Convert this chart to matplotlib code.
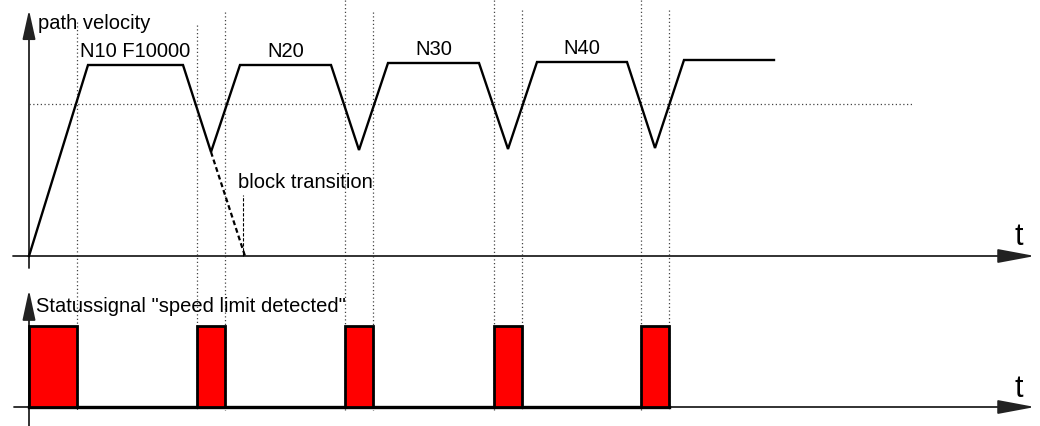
import matplotlib
matplotlib.use('Agg')
import matplotlib.pyplot as plt

# ---------------- data ----------------
# path velocity profile (time units, velocity units)
t_vel = [0, 59, 154, 182, 211, 302, 330, 359, 450, 479, 508, 598, 626, 655, 745]
v_vel = [0, 191, 191, 104, 191, 191, 106, 193, 193, 107, 194, 194, 108, 196, 196]
block_names = ["N10 F10000", "N20", "N30", "N40"]
limit_level = 152          # dotted velocity limit
limit_end = 883
ext_t = [182, 216]         # dashed continuation of braking ramp
ext_v = [104, 0]
transition_t = 214         # block transition marker
# status signal "speed limit detected"
pulse_start = [0, 168, 316, 465, 612]
pulse_end = [48, 196, 344, 493, 640]
marker_tops = [22, 25, 12, 0, 12, 0, 10, 0, 10]  # top rows of the dotted markers

plt.rcParams['font.family'] = ['Liberation Sans', 'DejaVu Sans']

W, H = 1040, 426
fig = plt.figure(figsize=(W / 100, H / 100), dpi=100)
fig.patch.set_facecolor('white')

# top axes: rows 0..280, v=0 at row 256
ax_v = fig.add_axes([0, (H - 280) / H, 1, 280 / H])
ax_v.set_xlim(-29, W - 29)
ax_v.set_ylim(-24, 256)
ax_v.axis('off')

# bottom axes: rows 280..426, s=0 at row 407, s=1 at row 326
ax_s = fig.add_axes([0, 0, 1, 146 / H])
ax_s.set_xlim(-29, W - 29)
ax_s.set_ylim(-19 / 81, 127 / 81)
ax_s.axis('off')

axis_col = '#222222'
FS = 14.5

# vertical dotted markers (spanning both panels)
marker_t = []
for s, e in zip(pulse_start, pulse_end):
    if s > 0:
        marker_t.append(s)
    marker_t.append(e)
for mt, top in zip(marker_t, marker_tops):
    ax_v.plot([mt, mt], [256 - top, 256 - 410], color='#444444', lw=0.9,
              linestyle=(0, (1, 2)), clip_on=False, zorder=1)

# horizontal dotted limit line
ax_v.plot([0, limit_end], [limit_level, limit_level], color='#444444', lw=0.9,
          linestyle=(0, (1, 2)), zorder=1)

# axes arrows (top)
ax_v.annotate('', xy=(1006, 0), xytext=(-16, 0),
              arrowprops=dict(arrowstyle='-|>,head_length=2.3,head_width=0.43',
                              mutation_scale=10, color=axis_col, lw=1.3,
                              shrinkA=0, shrinkB=0), zorder=2)
ax_v.annotate('', xy=(0, 246), xytext=(0, -12),
              arrowprops=dict(arrowstyle='-|>,head_length=1.8,head_width=0.4',
                              mutation_scale=10, color=axis_col, lw=1.3,
                              shrinkA=0, shrinkB=0), zorder=2)

# velocity curve
ax_v.plot(t_vel, v_vel, color='black', lw=1.7, solid_joinstyle='miter', zorder=3)
ax_v.plot(ext_t, ext_v, color='black', lw=1.6, linestyle=(0, (2.2, 1.4)), zorder=3)
ax_v.plot([transition_t, transition_t], [0, 61], color='black', lw=0.8,
          linestyle=(0, (3, 1.5)), zorder=3)

# block labels over plateaus
for i, name in enumerate(block_names):
    a, b = 1 + 3 * i, 2 + 3 * i
    tm = (t_vel[a] + t_vel[b]) / 2
    ax_v.text(tm, v_vel[a] + 8, name, ha='center', va='baseline', fontsize=FS)

ax_v.text(9, 227, 'path velocity', ha='left', va='baseline', fontsize=FS)
ax_v.text(transition_t - 5, 68, 'block transition', ha='left', va='baseline', fontsize=FS)
ax_v.text(990, 11, 't', ha='center', va='baseline', fontsize=22)

# bottom panel
ax_s.annotate('', xy=(1006, 0), xytext=(-15, 0),
              arrowprops=dict(arrowstyle='-|>,head_length=2.3,head_width=0.43',
                              mutation_scale=10, color=axis_col, lw=1.3,
                              shrinkA=0, shrinkB=0), zorder=2)
ax_s.annotate('', xy=(0, 117 / 81), xytext=(0, -19 / 81),
              arrowprops=dict(arrowstyle='-|>,head_length=1.85,head_width=0.4',
                              mutation_scale=10, color=axis_col, lw=1.3,
                              shrinkA=0, shrinkB=0), zorder=2)
ax_s.plot([0, pulse_end[-1]], [0, 0], color='black', lw=2.4, zorder=3)
widths = [e - s for s, e in zip(pulse_start, pulse_end)]
ax_s.bar(pulse_start, [1] * len(pulse_start), width=widths, align='edge',
         color='#ff0000', edgecolor='black', linewidth=2, zorder=4)
ax_s.text(7, (407 - 312) / 81, 'Statussignal "speed limit detected"',
          ha='left', va='baseline', fontsize=FS)
ax_s.text(990, (407 - 397) / 81, 't', ha='center', va='baseline', fontsize=22)

fig.savefig('out.png', dpi=100, facecolor='white')
